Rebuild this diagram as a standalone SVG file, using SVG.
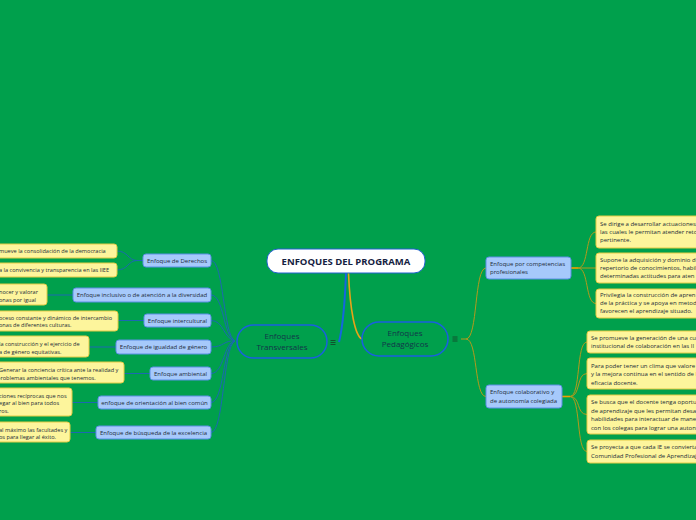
<svg xmlns="http://www.w3.org/2000/svg" width="696" height="520" viewBox="0 0 696 520">
<style>
text{font-family:"Open Sans","Noto Sans","DejaVu Sans",sans-serif;}
.bb{fill:#a6c9fb;stroke:#5b8fe6;stroke-width:1;}
.yb{fill:#fdf59c;stroke:#e3cb45;stroke-width:1;}
.t{font-size:6px;fill:#222b38;}
.tl{font-size:5.6px;fill:#222b38;}
.tc{font-size:6px;fill:#222b38;text-anchor:middle;}
.lc{fill:none;stroke:#1c68b2;stroke-width:1;}
.rc{fill:none;stroke:#b39a1c;stroke-width:1;}
.st{fill:none;stroke:#f0a000;stroke-width:1.6;}
.ic{stroke:#134a2a;stroke-width:0.9;}
</style>
<rect width="696" height="520" fill="#00a04c"/>
<g id="connectors">
<path d="M346,273 C345,300 342,330 339,342" fill="none" stroke="#1565e0" stroke-width="2"/>
<path d="M348.5,273 C350,310 355,336 362,339" fill="none" stroke="#e8a317" stroke-width="1.6"/>
<path class="lc" d="M235,341 C223,336 224,260.5 211,260.5"/>
<path class="lc" d="M235,341 C223,336 224,295 211,295"/>
<path class="lc" d="M235,341 C223,338 224,320.5 211,320.5"/>
<path class="lc" d="M235,341 C224,340 224,347 211,347"/>
<path class="lc" d="M235,341 C224,342 224,373.5 211,373.5"/>
<path class="lc" d="M235,341 C223,344 224,402.5 211,402.5"/>
<path class="lc" d="M235,341 C223,346 224,432.5 211,432.5"/>
<path class="lc" d="M143,260.5 L137,260.5 C128,260.5 128,251 117,251"/>
<path class="lc" d="M137,260.5 C128,260.5 128,270 117,270"/>
<path class="lc" d="M73,295 L47,295"/>
<path class="lc" d="M144,320.5 L118,320.5"/>
<path class="lc" d="M116,347 L89,347"/>
<path class="lc" d="M150,373.5 L124,373.5"/>
<path class="lc" d="M98,402.5 L72,402.5"/>
<path class="lc" d="M96,432.5 L70,432.5"/>
<path class="rc" d="M461,339 L466,339 C478,339 474,268 486,268"/>
<path class="rc" d="M466,339 C478,339 474,396.5 486,396.5"/>
<path class="st" d="M571,268 L578,268"/>
<path class="rc" d="M578,268 C589,268 585,232 596,232"/>
<path class="rc" d="M578,268 L596,268"/>
<path class="rc" d="M578,268 C589,268 585,303.5 596,303.5"/>
<path class="st" d="M562,396.5 L570,396.5"/>
<path class="rc" d="M570,396.5 C581,396.5 576,342 587,342"/>
<path class="rc" d="M570,396.5 C581,396.5 576,373.5 587,373.5"/>
<path class="rc" d="M570,396.5 C581,396.5 576,414.5 587,414.5"/>
<path class="rc" d="M570,396.5 C581,396.5 576,451.5 587,451.5"/>
</g>
<g id="main">
<rect x="267" y="249" width="158" height="24" rx="11" fill="#ffffff" stroke="#2060d0" stroke-width="1"/>
<text x="346" y="264.5" text-anchor="middle" font-size="9.5" font-weight="bold" fill="#15213f">ENFOQUES DEL PROGRAMA</text>
</g>
<g id="transversales">
<rect x="237" y="325" width="90" height="33" rx="16.5" fill="#00a04c" stroke="#1a5fe0" stroke-width="1.5"/>
<text x="282" y="339" text-anchor="middle" font-size="8" fill="#13354a">Enfoques</text>
<text x="282" y="350" text-anchor="middle" font-size="8" fill="#13354a">Transversales</text>
<path class="ic" d="M330.5,340.5h5M330.5,342.5h5M330.5,344.5h5"/>
</g>
<g id="pedagogicos">
<rect x="362" y="322" width="86" height="34" rx="17" fill="#00a04c" stroke="#1a5fe0" stroke-width="1.5"/>
<text x="405" y="335.5" text-anchor="middle" font-size="8" fill="#13354a">Enfoques</text>
<text x="405" y="347" text-anchor="middle" font-size="8" fill="#13354a">Pedagógicos</text>
<path class="ic" d="M452.5,337h5M452.5,339h5M452.5,341h5"/>
</g>
<g id="derechos">
<rect class="bb" x="143" y="254" width="68" height="13" rx="3"/>
<text class="tc" x="177" y="262.6">Enfoque de Derechos</text>
</g>
<g id="inclusivo">
<rect class="bb" x="73" y="288" width="138" height="14" rx="3"/>
<text class="tc" x="142" y="297.2">Enfoque inclusivo o de atención a la diversidad</text>
</g>
<g id="intercultural">
<rect class="bb" x="144" y="314" width="67" height="13" rx="3"/>
<text class="tc" x="177.5" y="322.6">Enfoque intercultural</text>
</g>
<g id="igualdad">
<rect class="bb" x="116" y="340" width="95" height="14" rx="3"/>
<text class="tc" x="163.5" y="349.2">Enfoque de igualdad de género</text>
</g>
<g id="ambiental">
<rect class="bb" x="150" y="367" width="61" height="13" rx="3"/>
<text class="tc" x="180.5" y="375.6">Enfoque ambiental</text>
</g>
<g id="bien-comun">
<rect class="bb" x="98" y="396" width="113" height="13" rx="3"/>
<text class="tc" x="154.5" y="404.6">enfoque de orientación al bien común</text>
</g>
<g id="excelencia">
<rect class="bb" x="96" y="426" width="115" height="13" rx="3"/>
<text class="tc" x="153.5" y="434.6">Enfoque de búsqueda de la excelencia</text>
</g>
<g id="l1">
<rect class="yb" x="-10" y="244" width="127" height="14" rx="3"/>
<text class="tl" x="-1" y="253.2">mueve la consolidación de la democracia</text>
</g>
<g id="l2">
<rect class="yb" x="-10" y="263" width="127" height="14" rx="3"/>
<text class="tl" x="-1" y="272.2">a la convivencia y transparencia en las IIEE</text>
</g>
<g id="l3">
<rect class="yb" x="-10" y="284" width="57" height="21" rx="3"/>
<text class="tl" x="-1" y="293.5">nocer y valorar</text>
<text class="tl" x="-1" y="301.5">onas por igual</text>
</g>
<g id="l4">
<rect class="yb" x="-10" y="311" width="128" height="20" rx="3"/>
<text class="tl" x="-1" y="319.5">oceso constante y dinámico de intercambio</text>
<text class="tl" x="-1" y="327.2">onas de diferentes culturas.</text>
</g>
<g id="l5">
<rect class="yb" x="-10" y="336" width="99" height="21" rx="3"/>
<text class="tl" x="-1" y="346">la construcción y el ejercicio de</text>
<text class="tl" x="-1" y="353.6">a de género equitativas.</text>
</g>
<g id="l6">
<rect class="yb" x="-10" y="362" width="134" height="21" rx="3"/>
<text class="tl" x="-1" y="372" font-size="5.4">Generar la conciencia crítica ante la realidad y</text>
<text class="tl" x="-3" y="379.8" font-size="5.4">problemas ambientales que tenemos.</text>
</g>
<g id="l7">
<rect class="yb" x="-10" y="388" width="82" height="28" rx="3"/>
<text class="tl" x="-1" y="397.5">ciones recíprocas que nos</text>
<text class="tl" x="-1" y="405">egar al bien para todos</text>
<text class="tl" x="-1" y="412.5">ros.</text>
</g>
<g id="l8">
<rect class="yb" x="-10" y="422" width="80" height="20" rx="3"/>
<text class="tl" x="-1" y="431.8">al máximo las facultades y</text>
<text class="tl" x="-1" y="439.4">os para llegar al éxito.</text>
</g>
<g id="competencias">
<rect class="bb" x="486" y="257" width="85" height="22" rx="3"/>
<text class="t" x="490" y="265.5">Enfoque por competencias</text>
<text class="t" x="490" y="274">profesionales</text>
</g>
<g id="colaborativo">
<rect class="bb" x="486" y="385" width="76" height="23" rx="3"/>
<text class="t" x="490" y="393.8">Enfoque colaborativo y</text>
<text class="t" x="490" y="402.5">de autonomía colegiada</text>
</g>
<g id="r1">
<rect class="yb" x="596" y="216" width="110" height="32" rx="3"/>
<text class="t" x="600" y="226">Se dirige a desarrollar actuaciones</text>
<text class="t" x="600" y="234.2">las cuales le permitan atender reto</text>
<text class="t" x="600" y="242.4">pertinente.</text>
</g>
<g id="r2">
<rect class="yb" x="596" y="253" width="110" height="30" rx="3"/>
<text class="t" x="600" y="261.5">Supone la adquisición y dominio de</text>
<text class="t" x="600" y="269.5">repertorio de conocimientos, habil</text>
<text class="t" x="600" y="277.5">determinadas actitudes para aten</text>
</g>
<g id="r3">
<rect class="yb" x="596" y="289" width="110" height="29" rx="3"/>
<text class="t" x="600" y="297">Privilegia la construcción de apren</text>
<text class="t" x="600" y="305">de la práctica y se apoya en metod</text>
<text class="t" x="600" y="313">favorecen el aprendizaje situado.</text>
</g>
<g id="r4">
<rect class="yb" x="587" y="331" width="119" height="22" rx="3"/>
<text class="t" x="591" y="339.5">Se promueve la generación de una cu</text>
<text class="t" x="591" y="347.8">institucional de colaboración en las II</text>
</g>
<g id="r5">
<rect class="yb" x="587" y="358" width="119" height="31" rx="3"/>
<text class="t" x="591" y="367.5">Para poder tener un clima que valore</text>
<text class="t" x="591" y="376">y la mejora continua en el sentido de l</text>
<text class="t" x="591" y="384.5">eficacia docente.</text>
</g>
<g id="r6">
<rect class="yb" x="587" y="395" width="119" height="39" rx="3"/>
<text class="t" x="591" y="404">Se busca que el docente tenga oportu</text>
<text class="t" x="591" y="412.5">de aprendizaje que les permitan desa</text>
<text class="t" x="591" y="421">habilidades para interactuar de mane</text>
<text class="t" x="591" y="429.5">con los colegas para lograr una auton</text>
</g>
<g id="r7">
<rect class="yb" x="587" y="440" width="119" height="23" rx="3"/>
<text class="t" x="591" y="449">Se proyecta a que cada IE se convierta</text>
<text class="t" x="591" y="457.5">Comunidad Profesional de Aprendizaj</text>
</g>
</svg>
